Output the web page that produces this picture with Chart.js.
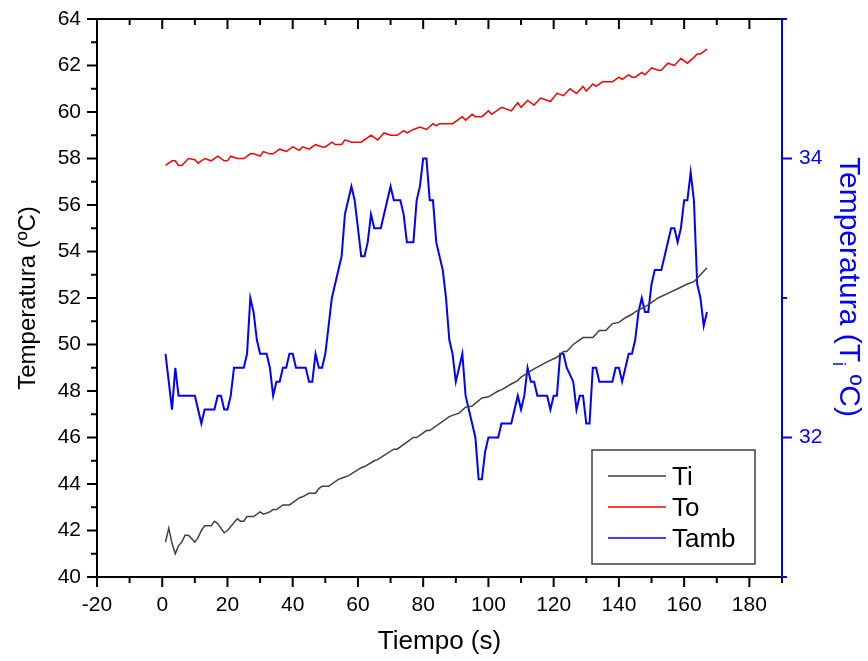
<!DOCTYPE html>
<html>
<head>
<meta charset="utf-8">
<script src="https://cdn.jsdelivr.net/npm/chart.js@4.4.1/dist/chart.umd.min.js"></script>
<style>
  html, body { margin: 0; padding: 0; background: #fff; }
  canvas { display: block; }
</style>
</head>
<body>
<canvas id="tempChart" width="868" height="661"></canvas>
<script>
// time (s) and temperatures
const tiTime = [1,2,3,4,5,6,7,8,10,11,12,13,15,16,17,19,20,23,24,25,26,28,30,31,33,34,35,37,39,40,42,43,45,47,48,49,51,54,56,57,61,62,65,66,71,72,77,78,81,82,88,89,91,93,95,98,100,103,104,107,109,110,114,118,121,123,124,126,129,132,134,136,138,140,142,144,145,149,152,155,158,161,163,165,167];
const tiTemp = [41.5,42.1,41.45,41.0,41.35,41.5,41.8,41.8,41.5,41.7,42.0,42.2,42.2,42.4,42.3,41.9,42.0,42.5,42.4,42.4,42.6,42.6,42.8,42.7,42.8,42.9,42.9,43.1,43.1,43.2,43.4,43.45,43.6,43.6,43.8,43.9,43.9,44.2,44.3,44.35,44.7,44.75,45.0,45.05,45.5,45.5,46.0,46.0,46.3,46.3,46.9,46.95,47.05,47.3,47.35,47.7,47.75,48.0,48.05,48.3,48.45,48.6,48.95,49.25,49.45,49.7,49.7,50.0,50.3,50.3,50.6,50.6,50.9,50.95,51.15,51.3,51.4,51.7,52.0,52.2,52.4,52.6,52.7,53.0,53.3];

const toTime = [1,3,4,5,6,8,10,11,13,15,17,19,20,21,23,25,27,28,30,31,33,34,36,38,40,42,43,45,47,49,50,52,53,55,56,58,61,64,66,68,70,72,74,75,77,79,81,83,84,85,89,92,93,95,96,98,100,101,104,107,109,110,112,114,116,119,121,123,125,127,129,130,132,133,135,138,140,141,143,144,145,147,148,150,152,153,155,157,159,161,163,164,165,167];
const toTemp = [57.7,57.9,57.9,57.7,57.7,58.0,57.95,57.8,58.0,57.9,58.1,57.9,57.9,58.1,58.0,58.0,58.2,58.2,58.1,58.3,58.2,58.2,58.4,58.3,58.5,58.35,58.5,58.4,58.6,58.5,58.5,58.7,58.6,58.6,58.8,58.7,58.7,59.0,58.8,59.1,59.0,59.0,59.2,59.1,59.25,59.35,59.25,59.5,59.4,59.5,59.5,59.8,59.65,59.9,59.8,59.8,60.05,59.9,60.2,60.05,60.4,60.2,60.5,60.3,60.6,60.45,60.8,60.7,61.0,60.8,61.1,60.9,61.2,61.1,61.3,61.3,61.5,61.4,61.6,61.5,61.5,61.7,61.6,61.9,61.8,61.8,62.1,62.0,62.3,62.1,62.35,62.5,62.5,62.7];

const tambTime = [1,3,4,5,10,12,13,16,17,18,19,20,21,22,25,26,27,28,29,30,32,33,34,35,36,37,38,39,40,41,44,45,46,47,48,49,50,51,52,53,54,55,56,57,58,59,60,61,62,63,64,65,67,68,69,70,71,73,74,75,77,78,79,80,81,82,83,84,86,87,88,89,90,92,93,96,97,98,99,100,103,104,107,108,109,110,111,112,113,114,115,118,119,120,121,122,123,124,126,127,128,129,130,131,132,133,134,138,139,140,141,142,143,144,145,146,147,148,149,150,151,153,154,155,156,157,158,159,160,161,162,163,164,165,166,167];
const tambTemp = [32.6,32.2,32.5,32.3,32.3,32.1,32.2,32.2,32.3,32.3,32.2,32.2,32.3,32.5,32.5,32.6,33.0,32.9,32.7,32.6,32.6,32.5,32.3,32.4,32.4,32.5,32.5,32.6,32.6,32.5,32.5,32.4,32.4,32.6,32.5,32.5,32.6,32.8,33.0,33.1,33.2,33.3,33.6,33.7,33.8,33.7,33.5,33.3,33.3,33.4,33.6,33.5,33.5,33.6,33.7,33.8,33.7,33.7,33.6,33.4,33.4,33.7,33.8,34.0,34.0,33.7,33.7,33.4,33.2,33.0,32.7,32.6,32.4,32.6,32.3,32.0,31.7,31.7,31.9,32.0,32.0,32.1,32.1,32.2,32.3,32.2,32.3,32.5,32.4,32.4,32.3,32.3,32.2,32.3,32.3,32.6,32.6,32.5,32.4,32.2,32.3,32.3,32.1,32.1,32.5,32.5,32.4,32.4,32.5,32.5,32.4,32.5,32.6,32.6,32.7,32.9,33.0,32.9,32.9,33.1,33.2,33.2,33.3,33.4,33.5,33.5,33.4,33.5,33.7,33.7,33.9,33.7,33.1,33.0,32.8,32.9];

const xTicks = [-20, 0, 20, 40, 60, 80, 100, 120, 140, 160, 180];
const leftTicks = [40, 42, 44, 46, 48, 50, 52, 54, 56, 58, 60, 62, 64];
const rightTicks = [32, 34];

const FONT = '"Liberation Sans", Arial, sans-serif';

function pairs(xs, ys) {
    return xs.map(function (t, i) { return { x: t, y: ys[i] }; });
}

// fixed axis box sizes so the plot frame lands where the original has it
function fixWidth(w) {
    return function (s) {
        s.width = w;
        s.paddingTop = 0;
        s.paddingBottom = 0;
    };
}

// axis lines plus major/minor tick marks (Origin style)
const axisFrame = {
    id: "axisFrame",
    afterDraw(chart) {
        const { ctx, chartArea: a, scales } = chart;
        const sx = scales.x, sl = scales.y, sr = scales.y1;
        ctx.save();
        ctx.lineWidth = 2;
        ctx.strokeStyle = "#000";
        ctx.beginPath();
        ctx.moveTo(a.left, a.top); ctx.lineTo(a.right, a.top);
        ctx.moveTo(a.left - 1, a.bottom); ctx.lineTo(a.right, a.bottom);
        ctx.moveTo(a.left, a.top - 1); ctx.lineTo(a.left, a.bottom + 1);
        for (let v = sx.min; v <= sx.max + 0.01; v += 10) {
            const px = sx.getPixelForValue(v);
            const len = v % 20 === 0 ? 10 : 6;
            ctx.moveTo(px, a.bottom); ctx.lineTo(px, a.bottom + len);
            ctx.moveTo(px, a.top); ctx.lineTo(px, a.top + len);
        }
        for (let v = sl.min; v <= sl.max; v += 1) {
            const py = sl.getPixelForValue(v);
            const len = v % 2 === 0 ? 10 : 6;
            ctx.moveTo(a.left, py); ctx.lineTo(a.left - len, py);
        }
        ctx.stroke();

        ctx.strokeStyle = "#0000ff";
        ctx.beginPath();
        ctx.moveTo(a.right, a.top - 1); ctx.lineTo(a.right, a.bottom + 1);
        for (let v = sr.min; v <= sr.max; v += 1) {
            const py = sr.getPixelForValue(v);
            const len = v % 2 === 0 ? 10 : 5;
            ctx.moveTo(a.right, py); ctx.lineTo(a.right + len, py);
        }
        ctx.stroke();
        ctx.restore();
    }
};

// boxed legend in the lower right corner of the plot
const legendBox = {
    id: "legendBox",
    afterDraw(chart) {
        const { ctx, chartArea } = chart;
        const w = 163, h = 114;
        const x0 = chartArea.right - 27 - w;
        const y0 = chartArea.bottom - 13 - h;
        ctx.save();
        ctx.fillStyle = "#fff";
        ctx.fillRect(x0, y0, w, h);
        ctx.strokeStyle = "#404040";
        ctx.lineWidth = 1.5;
        ctx.strokeRect(x0, y0, w, h);
        ctx.font = "26px " + FONT;
        ctx.textBaseline = "alphabetic";
        ctx.textAlign = "left";
        chart.data.datasets.forEach(function (ds, i) {
            const y = y0 + 26 + i * 31;
            ctx.strokeStyle = ds.borderColor;
            ctx.lineWidth = 1.5;
            ctx.beginPath();
            ctx.moveTo(x0 + 16, y);
            ctx.lineTo(x0 + 74, y);
            ctx.stroke();
            ctx.fillStyle = "#000";
            ctx.fillText(ds.label, x0 + 80, y + 9);
        });
        ctx.restore();
    }
};

// right axis title with subscript i
const rightTitle = {
    id: "rightTitle",
    afterDraw(chart) {
        const { ctx } = chart;
        const big = "30px " + FONT, small = "18px " + FONT;
        const p1 = "Temperatura (T", p2 = "i", p3 = " \u00baC)";
        ctx.save();
        ctx.fillStyle = "#0000ff";
        ctx.font = big;
        const w1 = ctx.measureText(p1).width, w3 = ctx.measureText(p3).width;
        ctx.font = small;
        const w2 = ctx.measureText(p2).width;
        const total = w1 + w2 + w3;
        ctx.translate(840, 287 - total / 2);
        ctx.rotate(Math.PI / 2);
        ctx.textBaseline = "alphabetic";
        ctx.font = big;
        ctx.fillText(p1, 0, 0);
        ctx.font = small;
        ctx.fillText(p2, w1, 7);
        ctx.font = big;
        ctx.fillText(p3, w1 + w2, 0);
        ctx.restore();
    }
};

new Chart(document.getElementById("tempChart"), {
    type: "line",
    data: {
        datasets: [{
            label: "Ti",
            data: pairs(tiTime, tiTemp),
            borderColor: "#404040",
            borderWidth: 1.5,
            yAxisID: "y"
        }, {
            label: "To",
            data: pairs(toTime, toTemp),
            borderColor: "#ff0000",
            borderWidth: 1.5,
            yAxisID: "y"
        }, {
            label: "Tamb",
            data: pairs(tambTime, tambTemp),
            borderColor: "#0000ff",
            borderWidth: 2,
            yAxisID: "y1"
        }]
    },
    options: {
        responsive: false,
        animation: false,
        parsing: false,
        elements: {
            point: { radius: 0 },
            line: { tension: 0, fill: false }
        },
        layout: { padding: { top: 19, left: 0, right: 0, bottom: 0 } },
        plugins: {
            legend: { display: false },
            tooltip: { enabled: false }
        },
        scales: {
            x: {
                type: "linear",
                min: -20,
                max: 190,
                afterFit: function (s) { s.height = 84; },
                afterBuildTicks: function (s) { s.ticks = xTicks.map(function (v) { return { value: v }; }); },
                grid: { display: false, drawTicks: false },
                border: { display: false },
                ticks: { color: "#000", font: { family: FONT, size: 21 }, padding: 16, maxRotation: 0, autoSkip: false },
                title: { display: true, text: "Tiempo (s)", color: "#000", font: { family: FONT, size: 26 }, padding: { top: 0, bottom: 4 } }
            },
            y: {
                position: "left",
                min: 40,
                max: 64,
                afterFit: fixWidth(97),
                afterBuildTicks: function (s) { s.ticks = leftTicks.map(function (v) { return { value: v }; }); },
                grid: { display: false, drawTicks: false },
                border: { display: false },
                ticks: { color: "#000", font: { family: FONT, size: 21 }, padding: 16, autoSkip: false },
                title: { display: true, text: "Temperatura (\u00baC)", color: "#000", font: { family: FONT, size: 24 }, padding: { top: 14, bottom: 0 } }
            },
            y1: {
                position: "right",
                min: 31,
                max: 35,
                afterFit: fixWidth(86),
                afterBuildTicks: function (s) { s.ticks = rightTicks.map(function (v) { return { value: v }; }); },
                grid: { display: false, drawTicks: false },
                border: { display: false },
                ticks: { color: "#0000ff", font: { family: FONT, size: 21 }, padding: 17, autoSkip: false }
            }
        }
    },
    plugins: [axisFrame, legendBox, rightTitle]
});
</script>
</body>
</html>
